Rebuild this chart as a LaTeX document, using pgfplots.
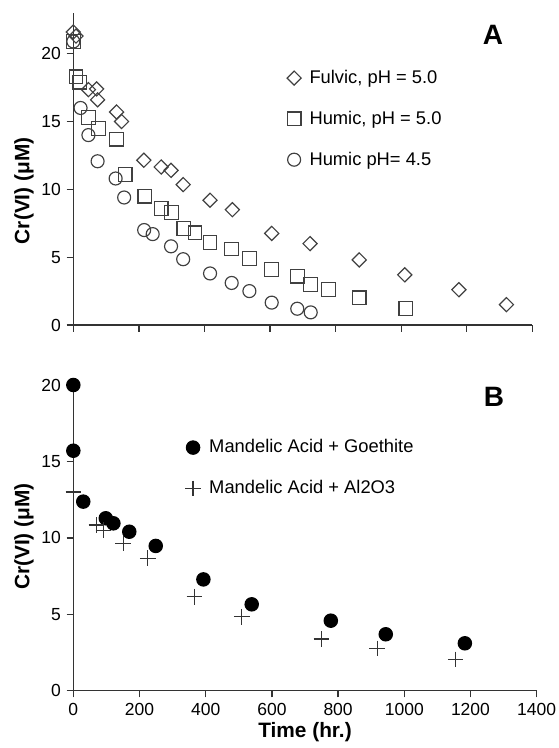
\documentclass[border=0pt]{standalone}
\usepackage{fontspec}
\setmainfont{Liberation Sans}
\usepackage{pgfplots}
\pgfplotsset{compat=1.18}

\pgfplotsset{panel/.style={
  scale only axis, clip=false,
  axis x line*=bottom, axis y line*=left,
  axis line style={-, line width=0.8pt, draw=black!80},
  xmin=0, xmax=1400, ymin=0,
  xtick={0,200,...,1400}, ytick={0,5,...,20},
  tick align=outside, major tick length=4pt,
  every tick/.style={line width=0.8pt, black!80},
  tick label style={font=\fontsize{10.5}{12}\selectfont},
  /pgf/number format/assume math mode=true,
  /pgf/number format/1000 sep={},
  ylabel={Cr(VI) (μM)},
  legend cell align=left,
  legend style={draw=none, fill=none, font=\fontsize{11}{13}\selectfont,
    row sep=11pt, anchor=north west,
    /tikz/every odd column/.append style={column sep=3pt}},
  every axis plot/.append style={line width=0.7pt},
}}

\begin{document}
\begin{tikzpicture}
\useasboundingbox (0,0) rectangle (334.8pt,-448.8pt);

% panel A
\begin{axis}[panel, at={(44pt,-195pt)}, anchor=south west,
  width=275.4pt, height=187.2pt, ymax=23, xticklabels={},
  every axis y label/.style={at={(axis description cs:0,0.43)}, xshift=-29.6pt, rotate=90, anchor=center,
    font=\fontsize{12.5}{14}\selectfont\bfseries},
  legend style={at={(0.454,0.839)}}]
\addplot[only marks, mark=square, mark size=3pt, draw=black!75, mark options={rotate=45}] coordinates {
(0,21.6) (8,21.3) (46,17.35) (71,17.4) (74,16.6) (132,15.7) (147,15.0) (215,12.15)
(268,11.65) (298,11.4) (335,10.35) (417,9.2) (485,8.5) (605,6.75) (722,6.0)
(872,4.8) (1011,3.7) (1176,2.6) (1321,1.5)};
\addlegendentry{Fulvic, pH = 5.0}
\addplot[only marks, mark=square, mark size=4.1pt, draw=black!75] coordinates {
(0,20.9) (8,18.3) (20,17.9) (46,15.3) (76,14.5) (132,13.7) (158,11.1) (218,9.5)
(268,8.6) (300,8.3) (337,7.1) (371,6.8) (417,6.1) (483,5.6) (537,4.9) (605,4.1)
(683,3.6) (724,3.0) (778,2.6) (872,2.0) (1014,1.2)};
\addlegendentry{Humic, pH = 5.0}
\addplot[only marks, mark=o, mark size=3.9pt, draw=black!75] coordinates {
(0,20.9) (22,16.0) (46,14.0) (74,12.07) (129,10.8) (155,9.4) (216,7.0) (242,6.7)
(298,5.8) (335,4.85) (417,3.8) (483,3.1) (537,2.5) (605,1.65) (683,1.2) (724,0.93)};
\addlegendentry{Humic pH= 4.5}
\end{axis}

% panel B
\begin{axis}[panel, at={(44pt,-414.4pt)}, anchor=south west,
  width=278pt, height=183.4pt, ymax=20,
  xlabel={Time (hr.)},
  every axis x label/.style={at={(axis description cs:0.5,0)}, yshift=-24.8pt, anchor=center,
    font=\fontsize{12.5}{14}\selectfont\bfseries},
  every axis y label/.style={at={(axis description cs:0,0.504)}, xshift=-29.6pt, rotate=90, anchor=center,
    font=\fontsize{12.5}{14}\selectfont\bfseries},
  legend style={at={(0.230,0.844)}}]
\addplot[only marks, mark=*, mark size=4pt, black] coordinates {
(0,20) (0,15.7) (30,12.37) (98,11.28) (121,10.95) (169,10.4) (249,9.47) (393,7.28)
(539,5.65) (778,4.58) (944,3.69) (1183,3.10)};
\addlegendentry{Mandelic Acid + Goethite}
\addplot[only marks, mark=+, mark size=4.7pt, black!80] coordinates {
(0,13.0) (70,10.84) (91,10.5) (151,9.64) (225,8.66) (366,6.15) (509,4.84)
(750,3.38) (918,2.77) (1155,2.05)};
\addlegendentry{Mandelic Acid + Al2O3}
\end{axis}

\node[font=\fontsize{16.8}{18}\selectfont\bfseries] at (295.8pt,-21pt) {A};
\node[font=\fontsize{16.8}{18}\selectfont\bfseries] at (296.4pt,-238.2pt) {B};
\end{tikzpicture}
\end{document}
